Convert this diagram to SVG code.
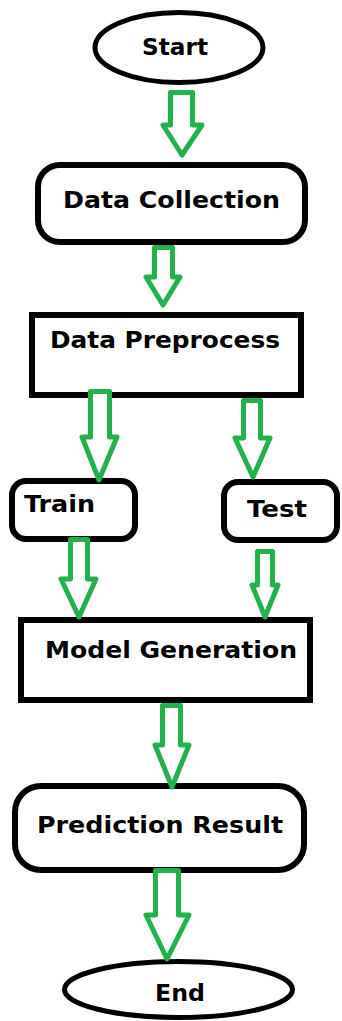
<svg xmlns="http://www.w3.org/2000/svg" width="342" height="1021" viewBox="0 0 342 1021">
<style>
.box{fill:#fff;stroke:#000;stroke-width:6}
.oval{fill:#fff;stroke:#000;stroke-width:5}
.lbl{font-family:"DejaVu Sans","Verdana",sans-serif;font-weight:bold;font-size:23px;fill:#000}
.arr{fill:#fff;stroke:#22b14c;stroke-width:5;stroke-linejoin:round}
</style>
<rect width="342" height="1021" fill="#fff"/>
<g id="start">
<ellipse class="oval" cx="179" cy="47.5" rx="84" ry="35"/>
<text class="lbl" x="142" y="55" textLength="66" lengthAdjust="spacingAndGlyphs">Start</text>
</g>
<g id="data-collection">
<rect class="box" x="38" y="165" width="267" height="77" rx="22"/>
<text class="lbl" x="63" y="208" textLength="217" lengthAdjust="spacingAndGlyphs">Data Collection</text>
</g>
<g id="data-preprocess">
<rect class="box" x="32" y="315" width="269" height="80"/>
<text class="lbl" x="50" y="348" textLength="230" lengthAdjust="spacingAndGlyphs">Data Preprocess</text>
</g>
<g id="train">
<rect class="box" x="12" y="481" width="123" height="58" rx="14"/>
<text class="lbl" x="24" y="512" textLength="71" lengthAdjust="spacingAndGlyphs">Train</text>
</g>
<g id="test">
<rect class="box" x="224" y="482" width="113" height="58" rx="14"/>
<text class="lbl" x="247" y="517" textLength="60" lengthAdjust="spacingAndGlyphs">Test</text>
</g>
<g id="model-generation">
<rect class="box" x="21" y="620" width="289" height="80"/>
<text class="lbl" x="45" y="658" textLength="252" lengthAdjust="spacingAndGlyphs">Model Generation</text>
</g>
<g id="prediction-result">
<rect class="box" x="15" y="786" width="289" height="84" rx="26"/>
<text class="lbl" x="37" y="833" textLength="246" lengthAdjust="spacingAndGlyphs">Prediction Result</text>
</g>
<g id="end">
<ellipse class="oval" cx="178.5" cy="989.5" rx="114" ry="28"/>
<text class="lbl" x="155" y="1001" textLength="50" lengthAdjust="spacingAndGlyphs">End</text>
</g>
<g id="connectors">
<path class="arr" d="M170.5,92.5 H192.5 V125 H202 L182,155 L163,125 H170.5 Z"/>
<path class="arr" d="M154.5,247.5 H172.5 V277 H180 L163,305 L146,277 H154.5 Z"/>
<path class="arr" d="M90.5,391.5 H109.5 V437 H117 L99,480 L82,437 H90.5 Z"/>
<path class="arr" d="M243.5,400.5 H260.5 V438 H270 L253,477 L235,438 H243.5 Z"/>
<path class="arr" d="M70.5,539.5 H87.5 V579 H96 L79,617 L61,579 H70.5 Z"/>
<path class="arr" d="M257.5,551.5 H272.5 V585 H278 L265,617 L252,585 H257.5 Z"/>
<path class="arr" d="M162.5,705.5 H180.5 V745 H189 L172,787 L155,745 H162.5 Z"/>
<path class="arr" d="M155.5,870.5 H178.5 V915 H189 L167,959 L146,915 H155.5 Z"/>
</g>
</svg>
